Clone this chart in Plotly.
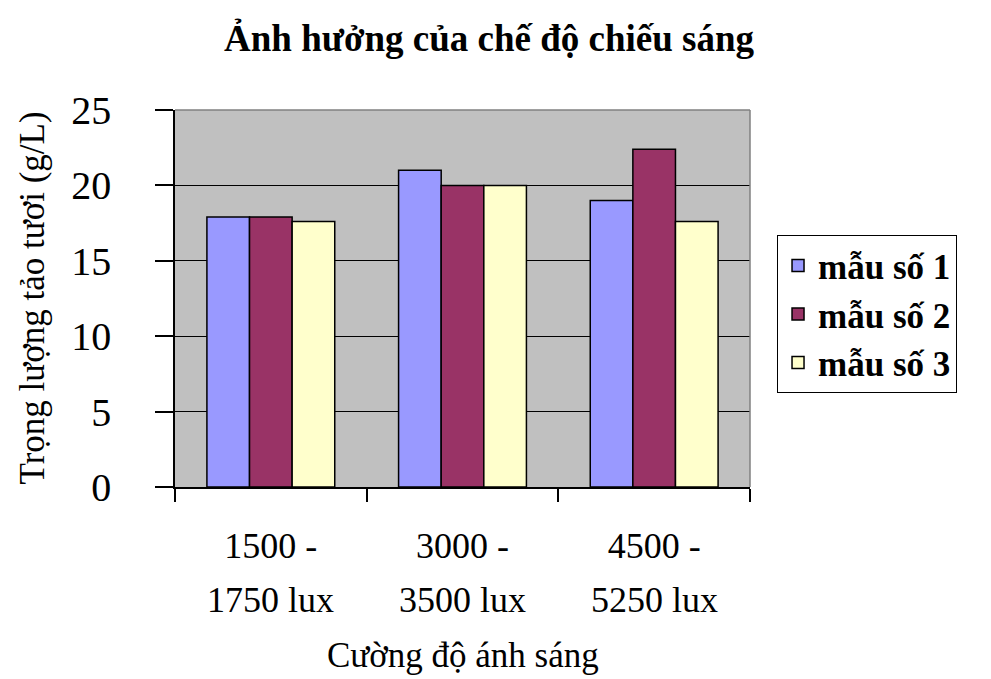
import plotly.graph_objects as go

# Light-intensity groups and their two-line labels
categories = ["1500-1750", "3000-3500", "4500-5250"]
label_top = ["1500 -", "3000 -", "4500 -"]
label_bottom = ["1750 lux", "3500 lux", "5250 lux"]

# Fresh algae weight (g/L) per sample
series_names = ["mẫu số 1", "mẫu số 2", "mẫu số 3"]
sample_1 = [17.9, 21.0, 19.0]
sample_2 = [17.9, 20.0, 22.4]
sample_3 = [17.6, 20.0, 17.6]
series_values = [sample_1, sample_2, sample_3]
series_colors = ["#9999FF", "#993366", "#FFFFCC"]

y_ticks = [0, 5, 10, 15, 20, 25]

SERIF = "Liberation Serif, Times New Roman, serif"

fig = go.Figure()
for name, vals, col in zip(series_names, series_values, series_colors):
    fig.add_trace(go.Bar(
        x=categories, y=vals, name=name, legendgroup=name,
        marker=dict(color=col, line=dict(color="black", width=1.5)),
    ))

fig.update_layout(
    width=991, height=679,
    margin=dict(l=175, r=241, t=110, b=192),
    paper_bgcolor="white",
    plot_bgcolor="#C0C0C0",
    barmode="group", bargap=0.333, bargroupgap=0,
    font=dict(family=SERIF, color="black"),
    title=dict(
        text="Ảnh hưởng của chế độ chiếu sáng",
        x=489 / 991, xanchor="center", y=1 - 38 / 679, yanchor="middle",
        font=dict(family=SERIF, size=37, weight="bold", color="black"),
    ),
    showlegend=True,
    legend=dict(
        x=1.047, xanchor="left", y=0.668, yanchor="top",
        bgcolor="white", bordercolor="black", borderwidth=1,
        font=dict(family=SERIF, size=35, weight="bold", color="black"),
        tracegroupgap=6, traceorder="normal",
        itemwidth=30,
    ),
    xaxis=dict(
        type="category", automargin=False,
        tickmode="array", tickvals=categories, ticktext=label_top,
        tickson="boundaries", ticks="outside", ticklen=13, tickwidth=1.5,
        tickcolor="black",
        showline=True, linecolor="black", linewidth=1.5,
        showgrid=False,
        tickfont=dict(family=SERIF, size=36, color="black"),
        ticklabelstandoff=26,
    ),
    yaxis=dict(
        range=[0, 25], tickmode="array", tickvals=y_ticks, automargin=False,
        ticks="outside", ticklen=18, tickwidth=1.5, tickcolor="black",
        showline=True, linecolor="black", linewidth=1.5,
        showgrid=True, gridcolor="black", gridwidth=1.2,
        zeroline=False,
        tickfont=dict(family=SERIF, size=40, color="black"),
        ticklabelstandoff=36,
    ),
)

# Second line of each category label
for cat, txt in zip(categories, label_bottom):
    fig.add_annotation(
        x=cat, xref="x", y=0, yref="paper", yshift=-113,
        text=txt, showarrow=False, xanchor="center", yanchor="middle",
        font=dict(family=SERIF, size=36, color="black"),
    )

# Horizontal axis title
fig.add_annotation(
    x=0.5, xref="paper", y=0, yref="paper", yshift=-168,
    text="Cường độ ánh sáng", showarrow=False,
    xanchor="center", yanchor="middle",
    font=dict(family=SERIF, size=35, color="black"),
)

# Vertical axis title
fig.add_annotation(
    x=0, xref="paper", xshift=-143, y=0.5, yref="paper",
    text="Trọng lượng tảo tươi (g/L)", textangle=-90, showarrow=False,
    xanchor="center", yanchor="middle",
    font=dict(family=SERIF, size=35, color="black"),
)

# Grey frame on the top and right of the plotting area
fig.add_shape(type="line", xref="paper", yref="paper", x0=0, x1=1, y0=1, y1=1,
              line=dict(color="#808080", width=1.5))
fig.add_shape(type="line", xref="paper", yref="paper", x0=1, x1=1, y0=0, y1=1,
              line=dict(color="#808080", width=1.5))

fig.write_html("out.html")
